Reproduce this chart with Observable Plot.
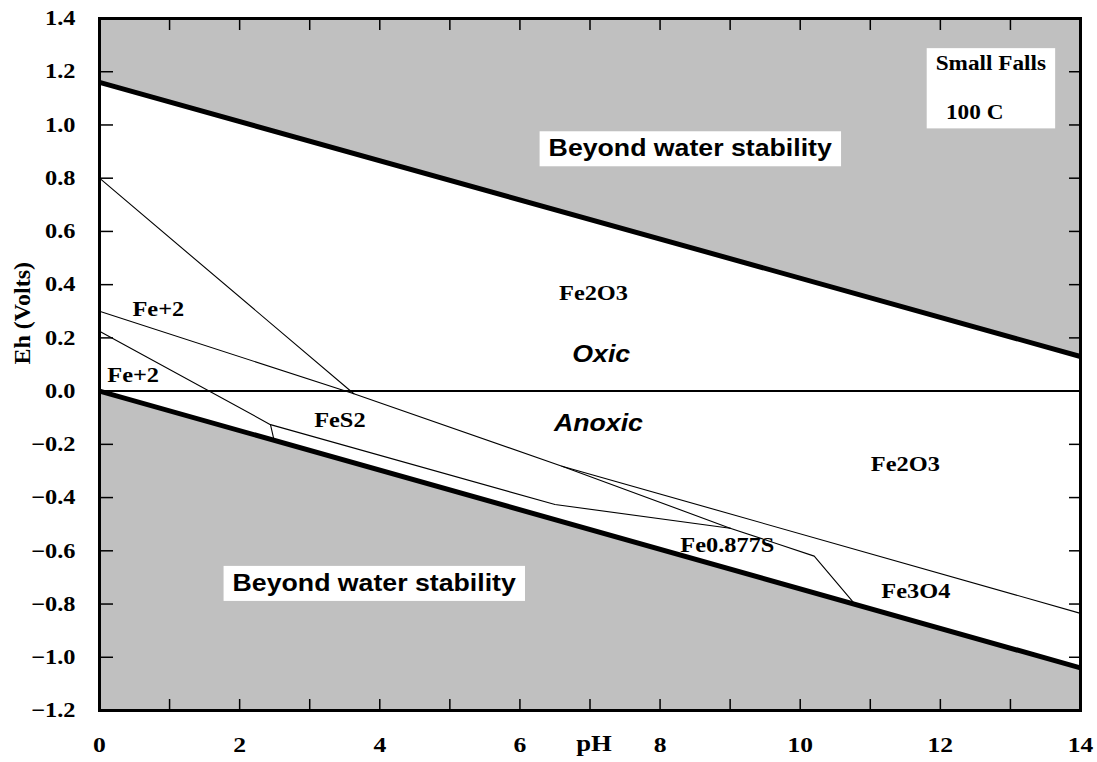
<!DOCTYPE html>
<html><head><meta charset="utf-8">
<script src="https://cdn.jsdelivr.net/npm/d3@7"></script>
<script src="https://cdn.jsdelivr.net/npm/@observablehq/plot@0.6"></script>
<style>body{margin:0;background:#fff}</style>
</head><body><div id="chart"></div>
<script>
// ---- data (pH, Eh in volts) ----
const xDomain = [0, 14];
const yDomain = [-1.2, 1.4];
const xLabelTicks = [0, 2, 4, 6, 8, 10, 12, 14];
const xMinorTicks = [1, 2, 3, 4, 5, 6, 7, 8, 9, 10, 11, 12, 13];
const yTicks = [-1.2, -1.0, -0.8, -0.6, -0.4, -0.2, 0.0, 0.2, 0.4, 0.6, 0.8, 1.0, 1.2, 1.4];

const waterUpper = [[0, 1.16], [14, 0.13]];
const waterLower = [[0, 0.0], [14, -1.04]];
const redoxLine = [0.0];

const lineFe2O3_Fe2 = [[0, 0.80], [3.63, -0.01]];
const lineFe2_upper = [[0, 0.30], [3.63, -0.01], [6.6, -0.282], [9.0, -0.515]];
const lineFe2O3_Fe3O4 = [[6.6, -0.282], [14, -0.835]];
const lineFe2_FeS2 = [[0, 0.225], [2.44, -0.126], [2.49, -0.183]];
const lineFeS2_lower = [[2.44, -0.126], [6.5, -0.426], [9.0, -0.515]];
const lineFe0877S_Fe3O4 = [[9.0, -0.515], [10.2, -0.62], [10.78, -0.80]];

const phaseLabels = ["Fe2O3", "Fe+2", "Fe+2", "FeS2", "Fe2O3", "Fe0.877S", "Fe3O4"];
const phaseLabelPH = [7.05, 0.84, 0.48, 3.43, 11.50, 8.96, 11.65];
const phaseLabelEh = [0.369, 0.309, 0.060, -0.109, -0.274, -0.578, -0.751];

const redoxLabels = ["Oxic", "Anoxic"];
const redoxLabelPH = [7.16, 7.12];
const redoxLabelEh = [0.137, -0.122];

const stabilityLabels = ["Beyond water stability", "Beyond water stability"];
const stabilityLabelPH = [8.43, 3.92];
const stabilityLabelEh = [0.910, -0.723];

const siteLabels = ["Small Falls", "100 C"];
const siteLabelPH = [12.72, 12.49];
const siteLabelEh = [1.230, 1.045];

// ---- build tables ----
const rows = (pts, id) => pts.map(([pH, Eh]) => ({pH, Eh, id}));
const labelRows = (t, x, y) => t.map((text, i) => ({text, pH: x[i], Eh: y[i]}));
const thinRows = [
  ...rows(lineFe2O3_Fe2, "a"), ...rows(lineFe2_upper, "b"), ...rows(lineFe2O3_Fe3O4, "c"),
  ...rows(lineFe2_FeS2, "d"), ...rows(lineFeS2_lower, "e"), ...rows(lineFe0877S_Fe3O4, "f")
];
const waterRows = [...rows(waterUpper, "u"), ...rows(waterLower, "l")];

const W = 1097, H = 762, mL = 99, mR = 17, mT = 18, mB = 52;
const frameW = W - mL - mR, frameH = H - mT - mB;
const serif = "'Liberation Serif', 'Times New Roman', serif";
const sans = "'Liberation Sans', Arial, sans-serif";

const chart = Plot.plot({
  width: W, height: H,
  marginLeft: mL, marginRight: mR, marginTop: mT, marginBottom: mB,
  x: {domain: xDomain, axis: null},
  y: {domain: yDomain, axis: null},
  style: {fontFamily: serif, fontWeight: "bold", fontSize: "21px", background: "white", color: "black"},
  marks: [
    Plot.areaY(rows(waterUpper, "u"), {x: "pH", y1: "Eh", y2: () => yDomain[1], fill: "#c0c0c0"}),
    Plot.areaY(rows(waterLower, "l"), {x: "pH", y1: "Eh", y2: () => yDomain[0], fill: "#c0c0c0"}),
    Plot.ruleY(redoxLine, {y: d => d, stroke: "black", strokeWidth: 2}),
    Plot.line(thinRows, {x: "pH", y: "Eh", z: "id", stroke: "black", strokeWidth: 1.1}),
    Plot.line(waterRows, {x: "pH", y: "Eh", z: "id", stroke: "black", strokeWidth: 5, clip: true}),
    // inward ticks
    Plot.ruleX(xMinorTicks, {x: d => d, insetTop: frameH - 11, stroke: "black", strokeWidth: 1.5}),
    Plot.ruleX(xMinorTicks, {x: d => d, insetBottom: frameH - 12, stroke: "black", strokeWidth: 1.5}),
    Plot.ruleY(yTicks, {y: d => d, insetRight: frameW - 14, stroke: "black", strokeWidth: 1.5}),
    Plot.ruleY(yTicks, {y: d => d, insetLeft: frameW - 11, stroke: "black", strokeWidth: 1.5}),
    Plot.frame({stroke: "black", strokeWidth: 3}),
    Plot.axisX(xLabelTicks, {anchor: "bottom", tickSize: 0, tickPadding: 26, label: null, fontSize: 22}),
    Plot.axisY(yTicks, {anchor: "left", tickSize: 0, tickPadding: 24, label: null, tickFormat: d3.format(".1f")}),
    Plot.text(["pH"], {frameAnchor: "bottom", dx: 4, dy: 33, text: d => d, fontSize: 23, lineAnchor: "middle"}),
    Plot.text(["Eh (Volts)"], {frameAnchor: "left", dx: -77, rotate: -90, text: d => d, fontSize: 24, ariaDescription: "norotate"}),
    // annotations
    Plot.text(labelRows(phaseLabels, phaseLabelPH, phaseLabelEh), {x: "pH", y: "Eh", text: "text", fontSize: 21}),
    Plot.text(labelRows(redoxLabels, redoxLabelPH, redoxLabelEh), {x: "pH", y: "Eh", text: "text", fontFamily: sans, fontStyle: "italic", fontSize: 23}),
    Plot.text(labelRows(stabilityLabels, stabilityLabelPH, stabilityLabelEh).slice(0, 1), {x: "pH", y: "Eh", text: "text", fontFamily: sans, fontSize: 23, ariaDescription: "boxed"}),
    Plot.text(labelRows(stabilityLabels, stabilityLabelPH, stabilityLabelEh).slice(1), {x: "pH", y: "Eh", text: "text", fontFamily: sans, fontSize: 23, ariaDescription: "boxed"}),
    Plot.text(labelRows(siteLabels, siteLabelPH, siteLabelEh), {x: "pH", y: "Eh", text: "text", fontSize: 20, ariaDescription: "boxed"})
  ]
});
document.getElementById("chart").appendChild(chart);

// horizontal stretch of glyphs to match the reference's aspect
const stretch = 1.16;
chart.querySelectorAll("text").forEach(t => {
  if (t.closest('[aria-description="norotate"]')) return;
  const len = t.getComputedTextLength();
  t.setAttribute("textLength", (len * stretch).toFixed(1));
  t.setAttribute("lengthAdjust", "spacingAndGlyphs");
});
// white boxes behind boxed annotations
chart.querySelectorAll('g[aria-description="boxed"]').forEach(g => {
  const b = g.getBBox();
  const r = document.createElementNS("http://www.w3.org/2000/svg", "rect");
  r.setAttribute("x", b.x - 9);
  r.setAttribute("y", b.y - 4);
  r.setAttribute("width", b.width + 18);
  r.setAttribute("height", b.height + 9);
  r.setAttribute("fill", "white");
  g.insertBefore(r, g.firstChild);
});
</script>
</body></html>
